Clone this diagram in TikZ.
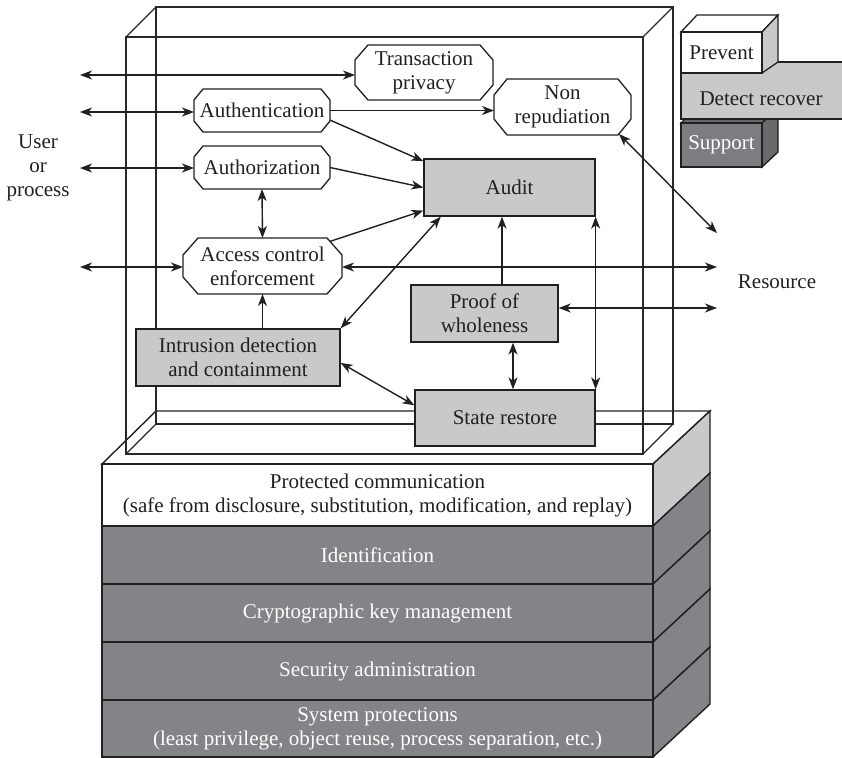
\documentclass[tikz,border=0pt]{standalone}
\usepackage{fontspec}
\setmainfont{Liberation Serif}
\usetikzlibrary{arrows.meta,calc}
\definecolor{lgray}{RGB}{200,201,203}
\definecolor{dgray}{RGB}{131,132,135}
\definecolor{supf}{RGB}{124,125,128}
\definecolor{sups}{RGB}{104,105,107}
\definecolor{lncol}{RGB}{35,31,32}
\definecolor{glasscol}{RGB}{40,40,40}
\tikzset{
  glass/.style={draw=glasscol, line width=1.2pt},
  stk/.style={draw=lncol, line width=1.4pt},
  octbox/.style={rectangle, inner sep=0pt, outer sep=0pt, align=center, text=lncol},
  octline/.style={draw=lncol, line width=1.3pt, line join=miter},
  graybox/.style={rectangle, draw=lncol, fill=lgray, line width=1.3pt, inner sep=0pt, align=center, text=lncol},
  layer/.style={rectangle, draw=lncol, line width=1.4pt, inner sep=0pt, align=center, minimum width=551pt},
  conn/.style={draw=lncol, line width=1.4pt, -{Stealth[length=12pt,width=9pt,inset=3.5pt]}},
  dconn/.style={draw=lncol, line width=1.4pt, {Stealth[length=12pt,width=9pt,inset=3.5pt]}-{Stealth[length=12pt,width=9pt,inset=3.5pt]}},
  plain/.style={inner sep=0pt, align=center, text=lncol},
  legbox/.style={rectangle, draw=lncol, line width=1.3pt, inner sep=0pt, align=center},
}
% octagonal outline round a named node: #1 node, #2 horizontal chamfer, #3 vertical chamfer
\newcommand{\octframe}[3]{%
  \draw[octline] ($(#1.north west)+(#2,0)$) -- ($(#1.north east)+(-#2,0)$)
    -- ($(#1.north east)+(0,#3)$) -- ($(#1.south east)+(0,-#3)$)
    -- ($(#1.south east)+(-#2,0)$) -- ($(#1.south west)+(#2,0)$)
    -- ($(#1.south west)+(0,-#3)$) -- ($(#1.north west)+(0,#3)$) -- cycle;}
\begin{document}
\begin{tikzpicture}[x=1pt,y=-1pt,font=\fontsize{21}{24}\selectfont]
\useasboundingbox (0,0) rectangle (842,757);

% ---- layer stack ----
\filldraw[stk, fill=white] (102,464) -- (156,411) -- (710,411) -- (653,464) -- cycle;
\filldraw[stk, fill=lgray] (653,464) -- (710,411) -- (710,473) -- (653,526) -- cycle;
\filldraw[stk, fill=dgray] (653,526) -- (710,473) -- (710,531) -- (653,584) -- cycle;
\filldraw[stk, fill=dgray] (653,584) -- (710,531) -- (710,589) -- (653,642) -- cycle;
\filldraw[stk, fill=dgray] (653,642) -- (710,589) -- (710,647) -- (653,700) -- cycle;
\filldraw[stk, fill=dgray] (653,700) -- (710,647) -- (710,704) -- (653,757) -- cycle;
\node[layer, fill=white, text=lncol, minimum height=62pt] (l1) at (377.5,495) {Protected communication\\(safe from disclosure, substitution, modification, and replay)};
\node[layer, fill=dgray, text=white, minimum height=58pt] (l2) at (377.5,555) {Identification};
\node[layer, fill=dgray, text=white, minimum height=58pt] (l3) at (377.5,613) {Cryptographic key management};
\node[layer, fill=dgray, text=white, minimum height=58pt] (l4) at (377.5,671) {Security administration};
\node[layer, fill=dgray, text=white, minimum height=57pt] (l5) at (377.5,728.5) {System protections\\(least privilege, object reuse, process separation, etc.)};

% ---- glass box ----
\draw[glass] (156,7) rectangle (673,424);
\draw[glass] (126,37) rectangle (643,454);
\draw[glass] (126,37) -- (156,7) (643,37) -- (673,7) (126,454) -- (156,424) (643,454) -- (673,424);

% ---- nodes ----
\node[octbox, minimum width=138pt, minimum height=55pt] (tp) at (424,72.5) {Transaction\\privacy};
\node[octbox, minimum width=136pt, minimum height=43pt] (auth) at (262,110.5) {Authentication};
\node[octbox, minimum width=136pt, minimum height=43pt] (authz) at (262,167.5) {Authorization};
\node[octbox, minimum width=137pt, minimum height=56pt] (nr) at (562.5,107) {Non\\repudiation};
\node[octbox, minimum width=159pt, minimum height=56pt] (acc) at (262.5,266) {Access control\\enforcement};
\octframe{tp}{13}{15}
\octframe{auth}{9}{11}
\octframe{authz}{9}{11}
\octframe{nr}{13}{16}
\octframe{acc}{15}{17}
\node[graybox, minimum width=171pt, minimum height=57pt] (audit) at (509.5,187.5) {Audit};
\node[graybox, minimum width=147pt, minimum height=57pt] (pw) at (484.5,313.5) {Proof of\\wholeness};
\node[graybox, minimum width=204pt, minimum height=57pt] (ids) at (238,357.5) {Intrusion detection\\and containment};
\node[graybox, minimum width=180pt, minimum height=56pt] (sr) at (505,418) {State restore};

\node[plain] (user) at (38,168) {User\\or\\process};
\node[plain] (res) at (777,282) {Resource};

% ---- connectors ----
\coordinate (uL1) at (80,75);
\coordinate (uL2) at (80,112);
\coordinate (uL3) at (80,168);
\coordinate (uL4) at (80,267);
\coordinate (rR1) at (717,267);
\coordinate (rR2) at (717,308);
\coordinate (rR3) at (717,233);

\draw[dconn] (uL1) -- (uL1 -| tp.west);
\draw[dconn] (uL2) -- (uL2 -| auth.west);
\draw[dconn] (uL3) -- (uL3 -| authz.west);
\draw[dconn] (uL4) -- (uL4 -| acc.west);
\draw[dconn] (rR1 -| acc.east) -- (rR1);
\draw[dconn] (rR2 -| pw.east) -- (rR2);
\draw[dconn] ($(nr.south east)+(-12,-1)$) -- (rR3);
\draw[conn] (auth.east) -- (auth.east -| nr.west);
\draw[conn] (auth.-8) -- (audit.163);
\draw[conn] (authz.east) -- (audit.west);
\draw[conn] ($(acc.north east)+(-12,3.4)$) -- (audit.195);
\draw[dconn] (authz.south) -- (acc.north);
\draw[conn] (acc.south |- ids.north) -- (acc.south);
\draw[dconn] (ids.north east) -- (audit.203);
\draw[dconn] (ids.-3) -- (sr.172);
\draw[conn] ([xshift=17.5pt]pw.north) -- ([xshift=17.5pt]pw.north |- audit.south);
\draw[dconn] ([xshift=28.5pt]pw.south) -- ([xshift=28.5pt]pw.south |- sr.north);
\draw[dconn] (sr.north east) -- (audit.south east);

% ---- legend ----
\filldraw[draw=lncol, line width=1.3pt, fill=sups] (762,123) -- (778,107) -- (778,152) -- (762,167) -- cycle;
\filldraw[draw=lncol, line width=1.3pt, fill=sups] (681,123) -- (697,107) -- (778,107) -- (762,123) -- cycle;
\node[legbox, fill=supf, text=white, minimum width=81pt, minimum height=44pt] (sup) at (721.5,145) {Support};
\filldraw[draw=lncol, line width=1.3pt, fill=lgray] (681,62) rectangle (846,119);
\node[plain] (det) at (761,99) {Detect recover};
\filldraw[draw=lncol, line width=1.3pt, fill=white] (681,32) -- (697,15) -- (778,15) -- (762,32) -- cycle;
\filldraw[draw=lncol, line width=1.3pt, fill=lgray] (762,32) -- (778,15) -- (778,62) -- (762,73) -- cycle;
\node[legbox, fill=white, text=lncol, minimum width=81pt, minimum height=41pt] (prev) at (721.5,52.5) {Prevent};
\end{tikzpicture}
\end{document}
